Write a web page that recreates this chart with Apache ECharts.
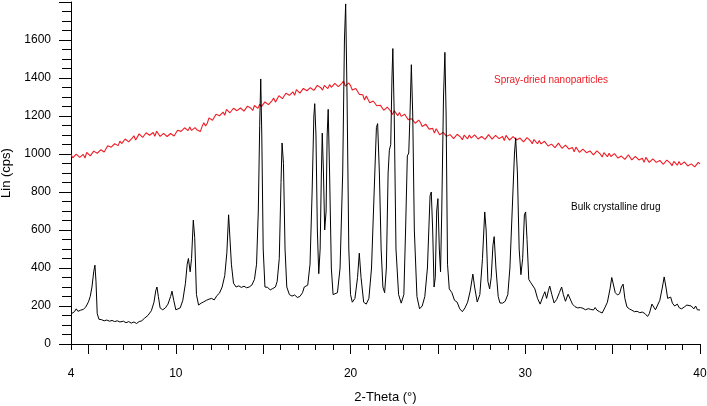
<!DOCTYPE html>
<html>
<head>
<meta charset="utf-8">
<script src="https://cdn.jsdelivr.net/npm/echarts@6/dist/echarts.min.js"></script>
<style>
  html, body { margin: 0; padding: 0; background: #fff; }
  #xrd { width: 707px; height: 406px; }
</style>
</head>
<body>
<div id="xrd"></div>
<script>
// spray-dried pattern, sampled every 0.1 deg from 4 deg
const redStart = 4
const redStep = 0.1
const redCounts = [
  998, 980, 978, 999, 999, 982, 982, 998, 979, 1009,
  1008, 990, 999, 1015, 1024, 1004, 1002, 1022, 1026, 1011,
  1020, 1043, 1047, 1036, 1026, 1054, 1054, 1044, 1068, 1055,
  1054, 1079, 1072, 1064, 1064, 1083, 1096, 1074, 1082, 1106,
  1102, 1087, 1088, 1112, 1116, 1099, 1099, 1113, 1093, 1120,
  1116, 1093, 1098, 1109, 1114, 1092, 1088, 1108, 1112, 1095,
  1102, 1125, 1130, 1119, 1110, 1138, 1138, 1123, 1142, 1124,
  1118, 1139, 1128, 1119, 1118, 1144, 1164, 1148, 1162, 1190,
  1190, 1178, 1182, 1209, 1216, 1201, 1204, 1221, 1204, 1235,
  1235, 1217, 1226, 1241, 1249, 1228, 1224, 1242, 1244, 1226,
  1232, 1252, 1254, 1241, 1229, 1255, 1252, 1240, 1262, 1249,
  1248, 1274, 1267, 1260, 1260, 1280, 1294, 1273, 1282, 1307,
  1304, 1291, 1294, 1320, 1325, 1309, 1311, 1327, 1309, 1339,
  1338, 1320, 1329, 1345, 1354, 1333, 1330, 1349, 1352, 1335,
  1341, 1361, 1363, 1349, 1336, 1361, 1357, 1344, 1365, 1351,
  1348, 1372, 1364, 1355, 1354, 1372, 1384, 1357, 1360, 1374,
  1360, 1337, 1330, 1345, 1340, 1314, 1306, 1312, 1284, 1305,
  1296, 1270, 1271, 1279, 1281, 1254, 1244, 1257, 1253, 1230,
  1231, 1247, 1244, 1225, 1208, 1228, 1220, 1202, 1218, 1198,
  1190, 1209, 1195, 1181, 1174, 1186, 1192, 1162, 1162, 1178,
  1166, 1145, 1139, 1157, 1154, 1131, 1126, 1135, 1110, 1133,
  1126, 1101, 1104, 1114, 1118, 1093, 1086, 1102, 1101, 1081,
  1085, 1104, 1104, 1089, 1075, 1099, 1094, 1080, 1100, 1084,
  1079, 1101, 1090, 1079, 1076, 1092, 1102, 1077, 1081, 1102,
  1095, 1078, 1076, 1098, 1100, 1081, 1079, 1092, 1071, 1098,
  1094, 1073, 1080, 1092, 1098, 1074, 1068, 1084, 1084, 1064,
  1068, 1086, 1086, 1069, 1054, 1076, 1070, 1054, 1071, 1053,
  1047, 1067, 1055, 1042, 1037, 1052, 1060, 1034, 1037, 1057,
  1048, 1030, 1027, 1047, 1047, 1026, 1023, 1034, 1011, 1036,
  1031, 1009, 1014, 1026, 1031, 1007, 1000, 1016, 1015, 995,
  998, 1016, 1015, 999, 984, 1007, 1001, 986, 1004, 987,
  981, 1002, 991, 979, 974, 989, 998, 972, 976, 996,
  987, 969, 967, 988, 989, 969, 966, 978, 956, 982,
  978, 956, 962, 974, 980, 956, 950, 966, 966, 946,
  950, 968, 968, 952, 938, 961, 956, 941, 960, 943,
  938, 959, 948, 937, 933, 948, 957, 932, 936, 956,
  948
]

// bulk crystalline drug pattern
const blackAngles = [
  4.00, 4.10, 4.20, 4.30, 4.40, 4.55, 4.70, 4.85, 5.00, 5.10, 5.20, 5.30, 5.37, 5.43, 5.50,
  5.60, 5.75, 5.90, 6.05, 6.20, 6.35, 6.50, 6.65, 6.80, 7.00, 7.15, 7.30, 7.45, 7.60, 7.75,
  7.90, 8.05, 8.20, 8.40, 8.60, 8.75, 8.85, 8.92, 9.00, 9.10, 9.25, 9.40, 9.55, 9.70, 9.78,
  9.88, 10.00, 10.10, 10.25, 10.40, 10.55, 10.65, 10.72, 10.82, 10.90, 11.00, 11.08, 11.18, 11.30, 11.45,
  11.60, 11.75, 11.90, 12.05, 12.20, 12.35, 12.50, 12.65, 12.80, 12.92, 13.02, 13.08, 13.18, 13.30, 13.45,
  13.60, 13.75, 13.90, 14.05, 14.20, 14.35, 14.50, 14.62, 14.72, 14.80, 14.86, 14.92, 15.00, 15.10, 15.25,
  15.40, 15.55, 15.70, 15.80, 15.92, 16.02, 16.08, 16.16, 16.25, 16.35, 16.50, 16.65, 16.80, 16.95, 17.10,
  17.25, 17.35, 17.45, 17.55, 17.68, 17.80, 17.90, 17.95, 18.02, 18.10, 18.18, 18.26, 18.33, 18.38, 18.45,
  18.52, 18.60, 18.66, 18.72, 18.80, 18.90, 19.00, 19.10, 19.25, 19.40, 19.55, 19.65, 19.72, 19.80, 19.90,
  20.00, 20.10, 20.25, 20.40, 20.50, 20.60, 20.75, 20.90, 21.05, 21.20, 21.35, 21.48, 21.55, 21.65, 21.75,
  21.85, 21.95, 22.05, 22.15, 22.22, 22.30, 22.37, 22.42, 22.50, 22.60, 22.75, 22.90, 23.05, 23.15, 23.25,
  23.33, 23.40, 23.48, 23.56, 23.65, 23.80, 23.95, 24.10, 24.25, 24.40, 24.55, 24.62, 24.70, 24.78, 24.85,
  24.93, 25.00, 25.08, 25.15, 25.22, 25.32, 25.40, 25.47, 25.55, 25.65, 25.80, 25.95, 26.10, 26.25, 26.40,
  26.55, 26.70, 26.85, 27.00, 27.10, 27.25, 27.40, 27.55, 27.68, 27.76, 27.86, 27.96, 28.05, 28.15, 28.22,
  28.32, 28.45, 28.55, 28.70, 28.85, 29.00, 29.12, 29.25, 29.38, 29.45, 29.55, 29.65, 29.75, 29.85, 29.95,
  30.02, 30.10, 30.20, 30.30, 30.40, 30.55, 30.70, 30.85, 30.95, 31.05, 31.12, 31.22, 31.32, 31.40, 31.52,
  31.65, 31.80, 31.95, 32.08, 32.18, 32.30, 32.45, 32.55, 32.70, 32.85, 33.00, 33.15, 33.30, 33.45, 33.60,
  33.75, 33.90, 34.00, 34.10, 34.25, 34.40, 34.55, 34.70, 34.85, 34.95, 35.05, 35.15, 35.28, 35.40, 35.50,
  35.60, 35.70, 35.82, 35.95, 36.10, 36.25, 36.40, 36.55, 36.70, 36.85, 37.00, 37.10, 37.25, 37.35, 37.45,
  37.55, 37.70, 37.85, 37.95, 38.05, 38.15, 38.25, 38.32, 38.42, 38.55, 38.70, 38.82, 38.95, 39.10, 39.25,
  39.35, 39.50, 39.65, 39.75, 39.85, 40.00
]
const blackCounts = [
  158, 165, 170, 185, 172, 178, 182, 195, 222, 250, 300, 380, 415, 330, 160,
  130, 128, 122, 126, 120, 124, 118, 122, 116, 120, 112, 118, 110, 116, 108,
  118, 122, 135, 150, 175, 220, 280, 300, 250, 190, 180, 190, 210, 250, 278,
  230, 180, 175, 190, 230, 320, 420, 450, 380, 450, 652, 560, 260, 205, 215,
  222, 230, 236, 240, 232, 255, 268, 300, 360, 480, 680, 670, 420, 320, 300,
  306, 298, 304, 296, 300, 310, 340, 420, 700, 1150, 1395, 1100, 500, 300, 298,
  285, 292, 300, 330, 450, 850, 1058, 950, 500, 300, 260, 252, 258, 245, 250,
  270, 300, 290, 310, 420, 800, 1200, 1265, 1100, 600, 370, 500, 900, 1110, 900,
  600, 700, 1100, 1235, 900, 400, 260, 250, 270, 400, 900, 1600, 1790, 1300, 500,
  260, 220, 240, 350, 478, 350, 220, 210, 240, 400, 800, 1140, 1160, 900, 500,
  300, 270, 400, 900, 1020, 1050, 1400, 1555, 1200, 500, 260, 215, 260, 600, 990,
  1005, 1200, 1470, 1200, 600, 250, 185, 200, 250, 400, 780, 800, 600, 300, 350,
  700, 765, 500, 380, 700, 1300, 1535, 1200, 420, 290, 270, 230, 220, 185, 170,
  190, 220, 280, 368, 300, 221, 260, 450, 695, 600, 330, 290, 350, 520, 565,
  400, 250, 216, 215, 225, 260, 400, 700, 1000, 1085, 900, 500, 365, 450, 680,
  695, 550, 340, 325, 320, 290, 240, 210, 205, 260, 275, 240, 280, 305, 260,
  216, 235, 270, 300, 260, 225, 262, 255, 210, 196, 190, 192, 188, 180, 186,
  182, 179, 192, 178, 170, 163, 190, 220, 290, 350, 345, 270, 258, 265, 300,
  315, 240, 195, 185, 178, 170, 172, 165, 168, 160, 145, 160, 210, 216, 180,
  175, 230, 300, 353, 300, 240, 235, 247, 215, 200, 210, 190, 185, 195, 205,
  210, 200, 185, 200, 180, 179
]

const xLabelValues = [4, 10, 20, 30, 40]
const xMajorTicks = [5, 10, 15, 20, 25, 30, 35, 40]
const yLabelValues = [0, 200, 400, 600, 800, 1000, 1200, 1400, 1600]

const FONT = 'Liberation Sans, Arial, Helvetica, sans-serif'

const redData = redCounts.map((c, i) => [+(redStart + i * redStep).toFixed(1), c])
const blackData = blackAngles.map((a, i) => [a, blackCounts[i]])

const chart = echarts.init(document.getElementById('xrd'), null, { renderer: 'canvas' })

chart.setOption({
  animation: false,
  backgroundColor: '#fff',
  grid: { left: 71, right: 7, top: 2, bottom: 62, containLabel: false, outerBoundsMode: 'none' },
  xAxis: [
    {
      type: 'value',
      min: 4,
      max: 40,
      name: '2-Theta (°)',
      nameLocation: 'middle',
      nameGap: 47,
      nameTextStyle: { color: '#000', fontSize: 13, fontFamily: FONT },
      splitLine: { show: false },
      axisLine: { lineStyle: { color: '#000', width: 1 } },
      axisTick: { customValues: xMajorTicks, length: 10, lineStyle: { color: '#000' } },
      axisLabel: { customValues: xLabelValues, margin: 24, color: '#000', fontSize: 12, fontFamily: FONT }
    },
    {
      // short ticks every degree
      type: 'value',
      min: 4,
      max: 40,
      interval: 1,
      position: 'bottom',
      splitLine: { show: false },
      axisLine: { show: false },
      axisTick: { length: 6, lineStyle: { color: '#000' } },
      axisLabel: { show: false }
    }
  ],
  yAxis: {
    type: 'value',
    min: 0,
    max: 1800,
    interval: 200,
    name: 'Lin (cps)',
    nameLocation: 'middle',
    nameGap: 45,
    nameTextStyle: { color: '#000', fontSize: 13, fontFamily: FONT },
    splitLine: { show: false },
    axisLine: { show: true, lineStyle: { color: '#000', width: 1 } },
    axisTick: { show: true, length: 12, lineStyle: { color: '#000' } },
    minorTick: { show: true, splitNumber: 4, length: 9, lineStyle: { color: '#000' } },
    axisLabel: {
      customValues: yLabelValues,
      margin: 20,
      color: '#000',
      fontSize: 12,
      fontFamily: FONT,
      formatter: v => String(v)
    }
  },
  series: [
    {
      name: 'Spray-dried nanoparticles',
      type: 'line',
      data: redData,
      showSymbol: false,
      lineStyle: { color: '#ee1c25', width: 1.1 },
      z: 2
    },
    {
      name: 'Bulk crystalline drug',
      type: 'line',
      data: blackData,
      showSymbol: false,
      lineStyle: { color: '#000', width: 1 },
      z: 3
    }
  ],
  graphic: [
    {
      type: 'text',
      left: 494,
      top: 75,
      style: { text: 'Spray-dried nanoparticles', fill: '#ee1c25', font: '10px ' + FONT }
    },
    {
      type: 'text',
      left: 571,
      top: 202,
      style: { text: 'Bulk crystalline drug', fill: '#000', font: '10px ' + FONT }
    }
  ]
})
</script>
</body>
</html>
